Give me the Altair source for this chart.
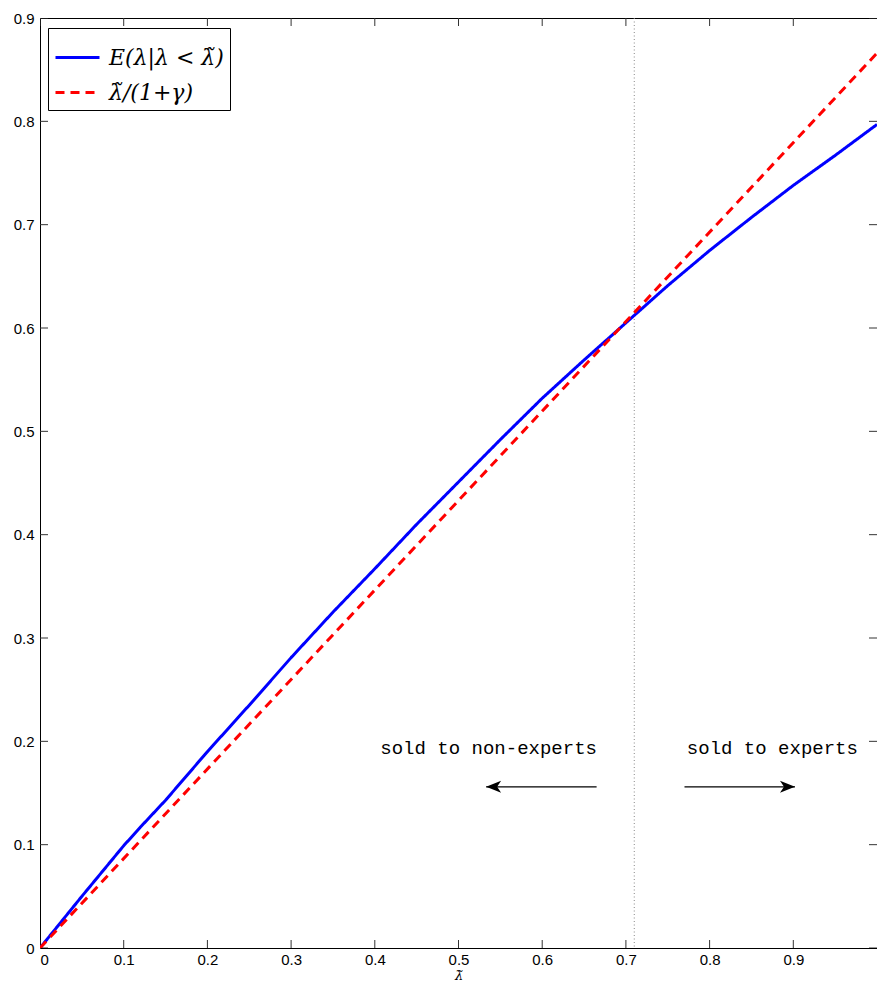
import altair as alt
import pandas as pd

# ---- data ----
blue_x = [0, 0.05, 0.1, 0.12, 0.15, 0.2, 0.25, 0.3, 0.35, 0.4, 0.45, 0.5,
          0.55, 0.6, 0.65, 0.7, 0.75, 0.8, 0.85, 0.9, 0.95, 1.0]
blue_y = [0, 0.050, 0.099, 0.117, 0.143, 0.190, 0.235, 0.281, 0.325, 0.367, 0.410, 0.451,
          0.492, 0.532, 0.569, 0.605, 0.641, 0.675, 0.707, 0.738, 0.767, 0.797]
red_x = [0, 1.0]
red_y = [0, 0.866]
series = ["E(λ|λ < λ̃)", "λ̃/(1+γ)"]

split_x = [0.71]

ann_text = ["sold to non-experts", "sold to experts"]
ann_x = [0.536, 0.875]
ann_y = [0.1935, 0.1935]

arrow_tail = [0.665, 0.770]
arrow_head = [0.533, 0.902]
arrow_y = [0.156, 0.156]

x_ticks = [0, 0.1, 0.2, 0.3, 0.4, 0.5, 0.6, 0.7, 0.8, 0.9]
y_ticks = [0, 0.1, 0.2, 0.3, 0.4, 0.5, 0.6, 0.7, 0.8, 0.9]
x_range = [0, 1]
y_range = [0, 0.9]

# ---- tables ----
lines = pd.concat([
    pd.DataFrame({"x": blue_x, "y": blue_y, "s": series[0]}),
    pd.DataFrame({"x": red_x, "y": red_y, "s": series[1]}),
])
xt = pd.concat([pd.DataFrame({"x": x_ticks, "y": y_range[0]}),
                pd.DataFrame({"x": x_ticks, "y": y_range[1]})])
yt = pd.concat([pd.DataFrame({"x": x_range[0], "y": y_ticks}),
                pd.DataFrame({"x": x_range[1], "y": y_ticks})])
ann = pd.DataFrame({"t": ann_text, "x": ann_x, "y": ann_y})
arrows = pd.DataFrame({"x": arrow_tail, "x2": arrow_head, "y": arrow_y})

xscale = alt.Scale(domain=x_range, nice=False, zero=False)
yscale = alt.Scale(domain=y_range, nice=False, zero=False)

leg = alt.Legend(
    title=None, orient="none", legendX=8, legendY=10, direction="vertical",
    symbolType="stroke", symbolSize=1936, symbolStrokeWidth=3,
    labelFont="DejaVu Serif", labelFontSize=22, labelFontStyle="italic",
    labelColor="black", labelOffset=8, padding=6, rowPadding=0,
    strokeColor="black", fillColor="white", cornerRadius=0,
)

line_layer = alt.Chart(lines).mark_line(strokeWidth=3, clip=True).encode(
    x=alt.X("x:Q", scale=xscale,
            axis=alt.Axis(values=x_ticks, format=".1~f", title="λ̃",
                          titleFont="DejaVu Serif", titleFontStyle="italic",
                          titleFontWeight="normal", titleFontSize=13,
                          titleBaseline="top", titleY=21,
                          labelPadding=4)),
    y=alt.Y("y:Q", scale=yscale,
            axis=alt.Axis(values=y_ticks, format=".1~f", title=None, labelPadding=6)),
    color=alt.Color("s:N", scale=alt.Scale(domain=series, range=["#0000ff", "#ff0000"]), legend=leg),
    strokeDash=alt.StrokeDash("s:N", scale=alt.Scale(domain=series, range=[[1, 0], [9, 6]]), legend=leg),
)

vline = alt.Chart(pd.DataFrame({"x": split_x})).mark_rule(
    color="#888888", strokeDash=[1, 2.5], strokeWidth=1
).encode(x="x:Q")

tick_style = dict(size=16, thickness=1, clip=True, color="#333333", opacity=1)
x_tick_layer = alt.Chart(xt).mark_tick(orient="vertical", **tick_style).encode(
    x="x:Q", y="y:Q")
y_tick_layer = alt.Chart(yt).mark_tick(orient="horizontal", **tick_style).encode(
    x="x:Q", y="y:Q")

texts = alt.Chart(ann).mark_text(
    font="Liberation Mono", fontSize=19, align="center", baseline="middle", color="black"
).encode(x="x:Q", y="y:Q", text="t:N")

arrow_lines = alt.Chart(arrows).mark_rule(color="black", strokeWidth=1.2).encode(
    x="x:Q", x2="x2:Q", y="y:Q")
head_left = alt.Chart(arrows.iloc[[0]]).mark_point(
    filled=True, color="black", opacity=1, size=100, strokeWidth=0,
    shape="M0,0 L3,-1.2 L2.2,0 L3,1.2 Z"
).encode(x="x2:Q", y="y:Q")
head_right = alt.Chart(arrows.iloc[[1]]).mark_point(
    filled=True, color="black", opacity=1, size=100, strokeWidth=0,
    shape="M0,0 L-3,-1.2 L-2.2,0 L-3,1.2 Z"
).encode(x="x2:Q", y="y:Q")

chart = alt.layer(
    vline, x_tick_layer, y_tick_layer, line_layer, texts, arrow_lines, head_left, head_right
).properties(
    width=837, height=930,
    padding={"left": 32, "top": 10, "right": 0, "bottom": 34},
    autosize=alt.AutoSizeParams(type="none"),
).configure_view(
    stroke="black", strokeWidth=1
).configure_axis(
    grid=False, domain=False, ticks=False,
    labelFont="Liberation Sans", labelFontSize=15, labelColor="black",
    titleColor="black",
)

chart.save("out.html", embed_options={"renderer": "svg", "actions": False})
